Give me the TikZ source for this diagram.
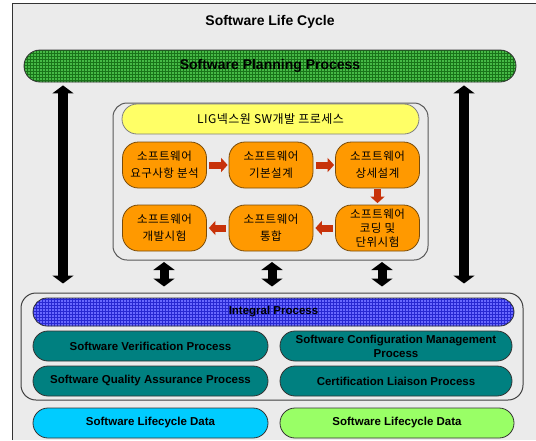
\documentclass[tikz,border=0pt]{standalone}
\usepackage{fontspec}
\setmainfont{Liberation Sans}
\newfontfamily\kr[LetterSpace=4]{Noto Sans CJK KR}
\usetikzlibrary{arrows.meta,patterns}
\definecolor{bgc}{RGB}{235,235,235}
\definecolor{plangreen}{RGB}{70,185,70}
\definecolor{gridgreen}{RGB}{25,115,25}
\definecolor{intblue}{RGB}{105,105,255}
\definecolor{gridblue}{RGB}{40,40,210}
\definecolor{ylw}{RGB}{255,255,102}
\definecolor{orng}{RGB}{255,153,0}
\definecolor{orngline}{RGB}{120,75,10}
\definecolor{tealc}{RGB}{0,128,128}
\definecolor{cyanc}{RGB}{0,204,255}
\definecolor{lgreen}{RGB}{153,255,102}
\definecolor{arrred}{RGB}{200,50,10}
\begin{document}
\begin{tikzpicture}[x=1pt,y=-1pt,
  every node/.style={inner sep=0pt,align=center},
  ttl/.style={font=\fontsize{14}{16}\selectfont\bfseries},
  bar/.style={draw=black!80,line width=0.8pt,rounded corners=15pt,minimum height=30pt},
  planbar/.style={bar,minimum width=492pt,minimum height=32pt,rounded corners=16pt,
     preaction={fill=plangreen},pattern=grid,pattern color=gridgreen,
     font=\fontsize{14}{16}\selectfont\bfseries},
  intbar/.style={bar,minimum width=481pt,minimum height=28pt,rounded corners=14pt,
     preaction={fill=intblue},pattern=grid,pattern color=gridblue,
     font=\fontsize{11.5}{13}\selectfont\bfseries},
  frame/.style={draw=black!65,line width=1pt,rounded corners=15pt,fill=bgc},
  ybar/.style={draw=black!50,line width=0.8pt,fill=ylw,rounded corners=15pt,
     minimum width=297pt,minimum height=30pt,font=\kr\fontsize{12}{14}\selectfont},
  obox/.style={draw=orngline,line width=0.8pt,fill=orng,rounded corners=16pt,
     minimum width=84pt,minimum height=46pt,font=\kr\fontsize{11.5}{17}\selectfont},
  obox3/.style={obox,font=\kr\fontsize{11.5}{14}\selectfont},
  tbox/.style={bar,fill=tealc,font=\fontsize{11.5}{14}\selectfont\bfseries},
  dbox/.style={bar,font=\fontsize{11.5}{14}\selectfont\bfseries},
  rarr/.style={draw=arrred,line width=7pt,-{Triangle[width=14pt,length=6.5pt]}},
  bigarr/.style={draw=black,line width=10pt,
     {Triangle[width=21pt,length=8pt]}-{Triangle[width=21pt,length=8pt]}},
  smarr/.style={draw=black,line width=9pt,
     {Triangle[width=21pt,length=8pt]}-{Triangle[width=21pt,length=8pt]}}
]
\useasboundingbox (0,0) rectangle (536,440);
\fill[bgc] (12.5,3) rectangle (536,440);
\draw[line width=0.8pt,black!80] (12.5,440) -- (12.5,3) -- (536,3);

\node[ttl] (title) at (270,22) {Software Life Cycle};
\node[planbar] (plan) at (270,66) {Software Planning Process};

% development process frame
\node[frame,minimum width=315pt,minimum height=157pt,rounded corners=14pt] (dev) at (270.5,181.5) {};
\node[ybar] (lig) at (270.5,119) {LIG넥스원 SW개발 프로세스};
\node[obox] (o1) at (164.5,165) {소프트웨어\\요구사항 분석};
\node[obox] (o2) at (271,165) {소프트웨어\\기본설계};
\node[obox] (o3) at (377.5,165) {소프트웨어\\상세설계};
\node[obox3] (o4) at (377.5,228) {소프트웨어\\코딩 및\\단위시험};
\node[obox] (o5) at (271,228) {소프트웨어\\통합};
\node[obox] (o6) at (164.5,228) {소프트웨어\\개발시험};

\draw[rarr,shorten <=2.5pt,shorten >=1pt] (o1) -- (o2);
\draw[rarr,shorten <=2.5pt,shorten >=1pt] (o2) -- (o3);
\draw[rarr,shorten <=0.5pt,shorten >=1.5pt] (o3) -- (o4);
\draw[rarr,shorten <=2.5pt,shorten >=2pt] (o4) -- (o5);
\draw[rarr,shorten <=2.5pt,shorten >=2pt] (o5) -- (o6);

% integral process frame
\node[frame,minimum width=502pt,minimum height=107pt,draw=black!75] (integ) at (272,346.5) {};
\node[intbar] (ip) at (273.5,312) {Integral Process};
\node[tbox,minimum width=235pt] (svp) at (150.5,346) {Software Verification Process};
\node[tbox,minimum width=232pt] (scm) at (396,346) {Software Configuration Management\\Process};
\node[tbox,minimum width=235pt] (sqa) at (150.5,381) {Software Quality Assurance Process};
\node[tbox,minimum width=232pt] (clp) at (396,381) {Certification Liaison Process};

\node[dbox,fill=cyanc,minimum width=235pt] (d1) at (150.5,423) {Software Lifecycle Data};
\node[dbox,fill=lgreen,minimum width=234pt] (d2) at (397,423) {Software Lifecycle Data};

% big arrows
\coordinate (la) at (63,0);
\coordinate (ra) at (464,0);
\draw[bigarr,shorten <=3pt,shorten >=9pt] (plan.south -| la) -- (integ.north -| la);
\draw[bigarr,shorten <=3pt,shorten >=9pt] (plan.south -| ra) -- (integ.north -| ra);

% small arrows
\coordinate (s1) at (164,0);
\coordinate (s2) at (272,0);
\coordinate (s3) at (382,0);
\draw[smarr,shorten <=1.5pt,shorten >=6pt] (dev.south -| s1) -- (integ.north -| s1);
\draw[smarr,shorten <=1.5pt,shorten >=6pt] (dev.south -| s2) -- (integ.north -| s2);
\draw[smarr,shorten <=1.5pt,shorten >=6pt] (dev.south -| s3) -- (integ.north -| s3);
\end{tikzpicture}
\end{document}
